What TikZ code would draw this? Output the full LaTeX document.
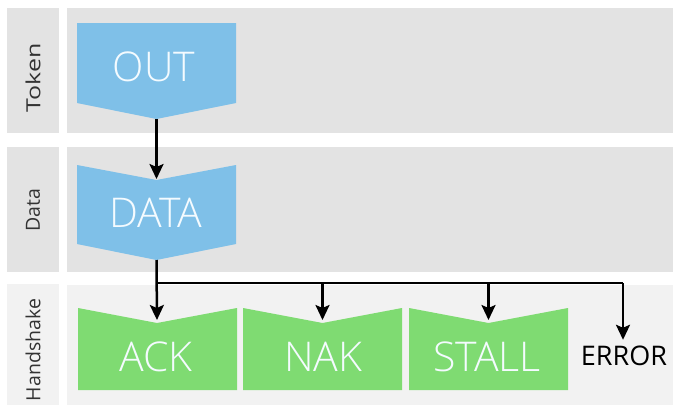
\documentclass[tikz,border=0pt]{standalone}
\usepackage{fontspec}
\setmainfont{Open Sans}
\newfontfamily\lightfont{Open Sans Light}
\usetikzlibrary{arrows.meta}
\definecolor{rowgray}{HTML}{E3E3E3}
\definecolor{hsgray}{HTML}{F2F2F2}
\definecolor{pktblue}{HTML}{7FC0E8}
\definecolor{hsgreen}{HTML}{7FDB72}
\definecolor{labeltext}{HTML}{333333}
\definecolor{pkttext}{HTML}{F4FBFF}
\begin{document}
\begin{tikzpicture}[x=1pt,y=-1pt,
  lanelabel/.style={rotate=90,text=labeltext,font=\fontsize{19.5}{19.5}\selectfont,inner sep=0pt},
  pkttitle/.style={text=pkttext,font=\lightfont\fontsize{41}{41}\selectfont,inner sep=0pt},
  tokenbox/.style={fill=pktblue},
  hsbox/.style={fill=hsgreen},
  wire/.style={line width=2.5pt,draw=black},
  conn/.style={wire,-{Stealth[length=15pt,width=14pt,inset=3pt]}},
  plain/.style={text=black,font=\fontsize{27}{27}\selectfont,inner sep=0pt,text height=20pt,text depth=0pt}]
\useasboundingbox (0,0) rectangle (673,405);
\fill[white] (0,0) rectangle (673,405);

% swim lanes: label column and body
\fill[rowgray] (7,8) rectangle (59,133);
\fill[rowgray] (67,8) rectangle (673,133);
\fill[rowgray] (7,147) rectangle (59,272);
\fill[rowgray] (67,147) rectangle (673,272);
\fill[hsgray] (7,284) rectangle (59,405);
\fill[hsgray] (67,285) rectangle (673,405);

\node[lanelabel] (ltoken) at (33,78) {\scalebox{1.28}[1]{Token}};
\node[lanelabel] (ldata) at (33,210) {Data};
\node[lanelabel] (lhs) at (33,350) {Handshake};

% token packet
\fill[tokenbox] (77,23) -- (236,23) -- (236,103) -- (156.5,119) -- (77,103) -- cycle;
\coordinate (outtip) at (156.5,119);
\node[pkttitle] (out) at (154,67) {OUT};

% data packet
\fill[tokenbox] (77,165) -- (156.5,180) -- (236,165) -- (236,244) -- (156.5,260) -- (77,244) -- cycle;
\coordinate (datanotch) at (156.5,180);
\coordinate (datatip) at (156.5,260);
\node[pkttitle] (data) at (156,213) {DATA};

% handshake packets
\fill[hsbox] (78,308) -- (157,323) -- (237,308) -- (237,390) -- (78,390) -- cycle;
\coordinate (acknotch) at (157,323);
\node[pkttitle] (ack) at (156,357) {ACK};

\fill[hsbox] (243,308) -- (322.5,323) -- (402,308) -- (402,390) -- (243,390) -- cycle;
\coordinate (naknotch) at (322.5,323);
\node[pkttitle] (nak) at (323,357) {NAK};

\fill[hsbox] (409,308) -- (488.5,323) -- (568,308) -- (568,390) -- (409,390) -- cycle;
\coordinate (stallnotch) at (488.5,323);
\node[pkttitle] (stall) at (487,357) {STALL};

\node[plain] (error) at (624,355) {ERROR};

% connectors
\coordinate (bus) at (623,283);
\draw[conn,shorten >=1pt] (outtip) -- (datanotch);
\draw[wire] (datatip |- bus) -- (bus);
\draw[conn,shorten >=3pt] (datatip) -- (acknotch);
\draw[conn,shorten >=3pt] (naknotch |- bus) -- (naknotch);
\draw[conn,shorten >=3pt] (stallnotch |- bus) -- (stallnotch);
\draw[conn,shorten >=5pt] ([xshift=-1pt]error.north |- bus) -- ([xshift=-1pt]error.north);
\end{tikzpicture}
\end{document}
